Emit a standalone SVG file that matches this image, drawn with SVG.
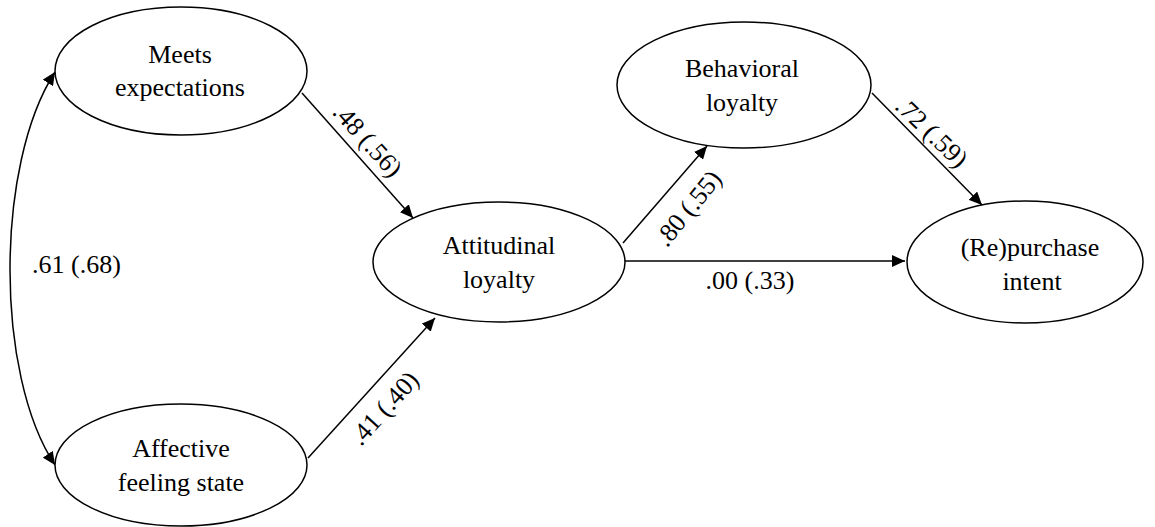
<svg xmlns="http://www.w3.org/2000/svg" width="1155" height="527" viewBox="0 0 1155 527">
<style>
.node ellipse{fill:#fff;stroke:#000;stroke-width:1.5}
.c{text-anchor:middle}
.edge{fill:none;stroke:#000;stroke-width:1.5}
</style>
<defs>
<marker id="ah" markerUnits="userSpaceOnUse" markerWidth="14" markerHeight="12" refX="13" refY="6" orient="auto-start-reverse">
<path d="M0,0 L13,6 L0,12 Z" fill="#000"/>
</marker>
</defs>
<rect width="1155" height="527" fill="#fff"/>
<g font-family="Liberation Serif, Times New Roman, Tinos, serif" font-size="26" fill="#000">
<g id="connectors">
<path class="edge" d="M55,72 C-5,165 -5,375 55,465" marker-start="url(#ah)" marker-end="url(#ah)"/>
<line class="edge" x1="302" y1="93" x2="413" y2="218" marker-end="url(#ah)"/>
<line class="edge" x1="308" y1="458" x2="435" y2="318" marker-end="url(#ah)"/>
<line class="edge" x1="623" y1="243" x2="707" y2="146" marker-end="url(#ah)"/>
<line class="edge" x1="872" y1="93" x2="982" y2="205" marker-end="url(#ah)"/>
<line class="edge" x1="625" y1="261" x2="905" y2="261" marker-end="url(#ah)"/>
<text x="32" y="273">.61 (.68)</text>
<text class="c" transform="translate(368,140) rotate(48)" y="9">.48 (.56)</text>
<text class="c" transform="translate(384,408) rotate(-48)" y="9">.41 (.40)</text>
<text class="c" transform="translate(688,208) rotate(-51)" y="9">.80 (.55)</text>
<text class="c" transform="translate(932,132) rotate(44)" y="9">.72 (.59)</text>
<text class="c" x="750" y="289">.00 (.33)</text>
</g>
<g id="meets" class="node">
<ellipse cx="181" cy="71" rx="126" ry="64"/>
<text class="c" x="180" y="63">Meets</text>
<text class="c" x="180" y="96">expectations</text>
</g>
<g id="affective" class="node">
<ellipse cx="181" cy="465" rx="126" ry="61"/>
<text class="c" x="181" y="457">Affective</text>
<text class="c" x="181" y="491">feeling state</text>
</g>
<g id="attitudinal" class="node">
<ellipse cx="499" cy="262" rx="126" ry="60"/>
<text class="c" x="499" y="254">Attitudinal</text>
<text class="c" x="499" y="288">loyalty</text>
</g>
<g id="behavioral" class="node">
<ellipse cx="744" cy="85" rx="127" ry="63"/>
<text class="c" x="742" y="77">Behavioral</text>
<text class="c" x="742" y="111">loyalty</text>
</g>
<g id="repurchase" class="node">
<ellipse cx="1025" cy="262" rx="118" ry="61"/>
<text class="c" x="1030" y="256">(Re)purchase</text>
<text class="c" x="1032" y="290">intent</text>
</g>
</g>
</svg>
